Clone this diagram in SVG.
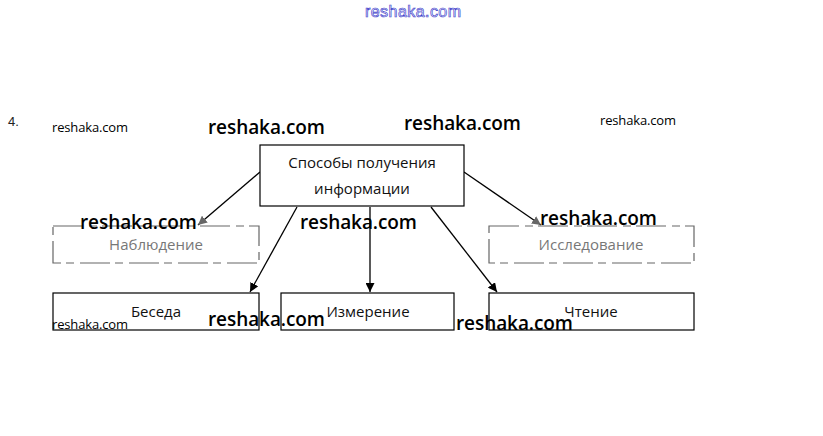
<svg xmlns="http://www.w3.org/2000/svg" width="823" height="436" viewBox="0 0 823 436">
<style>
.box{fill:#fff;stroke:#000;stroke-width:1.2}
.faint{fill:#fff;stroke:#666;stroke-width:1.2;stroke-dasharray:30 6 8 5}
.lbl{font-family:"Open Sans",sans-serif;font-size:15px;text-anchor:middle;fill:#111}
.glbl{font-family:"Open Sans",sans-serif;font-size:15px;text-anchor:middle;fill:#777}
.wm{font-family:"Open Sans",sans-serif;font-size:19px;font-weight:600;fill:#000}
.ws{font-family:"Open Sans",sans-serif;font-size:13px;fill:#000}
.ln{stroke:#000;stroke-width:1.3;fill:none}
</style>
<defs>
<marker id="ah" viewBox="0 0 10 10" refX="10" refY="5" markerWidth="9" markerHeight="9" orient="auto" markerUnits="userSpaceOnUse"><path d="M0,0 L10,5 L0,10 z" fill="#000"/></marker>
<marker id="ahg" viewBox="0 0 10 10" refX="10" refY="5" markerWidth="9" markerHeight="9" orient="auto" markerUnits="userSpaceOnUse"><path d="M0,0 L10,5 L0,10 z" fill="#666"/></marker>
</defs>
<rect width="823" height="436" fill="#fff"/>
<text x="413" y="17" font-family="Liberation Sans,sans-serif" font-size="16" text-anchor="middle" fill="#fff" stroke="#44c" stroke-width="0.7" textLength="96">reshaka.com</text>
<text x="8" y="126" font-family="Liberation Sans,sans-serif" font-size="13" fill="#222">4.</text>
<g id="connectors">
<line class="ln" x1="260" y1="172" x2="198" y2="225" marker-end="url(#ahg)"/>
<line class="ln" x1="297" y1="207" x2="250" y2="292" marker-end="url(#ah)"/>
<line class="ln" x1="370" y1="207" x2="370" y2="292" marker-end="url(#ah)"/>
<line class="ln" x1="431" y1="207" x2="497" y2="292" marker-end="url(#ah)"/>
<line class="ln" x1="464" y1="172" x2="541" y2="225" marker-end="url(#ahg)"/>
</g>
<g id="n-main"><rect class="box" x="260" y="145" width="204" height="61"/><text class="lbl" x="362" y="168">Способы получения</text><text class="lbl" x="362" y="194">информации</text></g>
<g id="n-nabl"><rect class="faint" x="53" y="226" width="206" height="37"/><text class="glbl" x="156" y="250">Наблюдение</text></g>
<g id="n-issl"><rect class="faint" x="489" y="226" width="205" height="37"/><text class="glbl" x="591" y="250">Исследование</text></g>
<g id="n-beseda"><rect class="box" x="53" y="293" width="206" height="37"/><text class="lbl" x="156" y="317">Беседа</text></g>
<g id="n-izm"><rect class="box" x="281" y="293" width="173" height="37"/><text class="lbl" x="368" y="317">Измерение</text></g>
<g id="n-cht"><rect class="box" x="489" y="293" width="205" height="37"/><text class="lbl" x="591" y="317">Чтение</text></g>
<g id="watermarks">
<text class="ws" x="52" y="132" textLength="76">reshaka.com</text>
<text class="wm" x="208" y="134" textLength="117">reshaka.com</text>
<text class="wm" x="404" y="130" textLength="117">reshaka.com</text>
<text class="ws" x="600" y="125" textLength="76">reshaka.com</text>
<text class="wm" x="80" y="229" textLength="117">reshaka.com</text>
<text class="wm" x="300" y="229" textLength="117">reshaka.com</text>
<text class="wm" x="540" y="225" textLength="117">reshaka.com</text>
<text class="wm" x="208" y="326" textLength="117">reshaka.com</text>
<text class="wm" x="456" y="330" textLength="117">reshaka.com</text>
<text class="ws" x="52" y="329" textLength="76">reshaka.com</text>
</g>
</svg>
